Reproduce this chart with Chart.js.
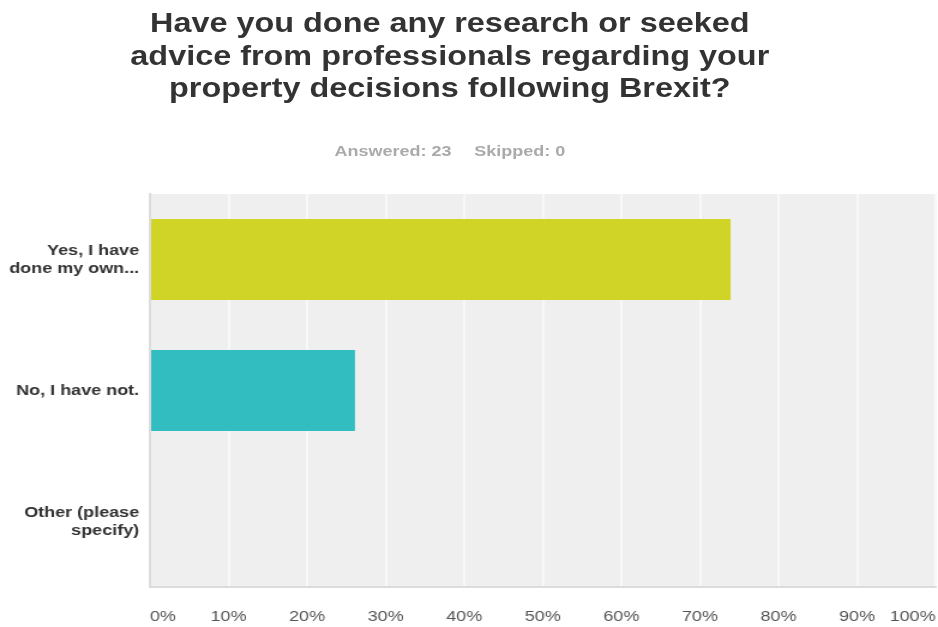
<!DOCTYPE html>
<html>
<head>
<meta charset="utf-8">
<script src="https://cdn.jsdelivr.net/npm/chart.js@4/dist/chart.umd.min.js"></script>
<style>
  html, body { margin: 0; padding: 0; background: #fff; overflow: hidden; }
  /* the survey layout is drawn narrow and stretched sideways */
  #wrap { position: absolute; left: 0; top: 0; width: 782px; height: 627px; transform: scaleX(1.1995); transform-origin: 0 0; }
  #title { position: absolute; left: 0; top: 7px; width: 750px; text-align: center;
    font: bold 27px/32.5px "Liberation Sans", Arial, sans-serif; color: #333; }
  #sub { position: absolute; left: 0; top: 142px; width: 750px; text-align: center;
    font: bold 15px/18px "Liberation Sans", Arial, sans-serif; color: #aaa; }
  #sub span + span { margin-left: 19px; }
  #chart { position: absolute; left: 0; top: 0; }
</style>
</head>
<body>
<div id="wrap">
  <canvas id="chart" width="782" height="627"></canvas>
  <div id="title">Have you done any research or seeked<br>advice from professionals regarding your<br>property decisions following Brexit?</div>
  <div id="sub"><span>Answered: 23</span><span>Skipped: 0</span></div>
</div>
<script>
const answers = [['Yes, I have', 'done my own...'], 'No, I have not.', ['Other (please', 'specify)']];
const percents = [73.91, 26.09, 0];
const barColors = ['#cfd427', '#32bec0', '#cfd427'];
const tickValues = [0, 10, 20, 30, 40, 50, 60, 70, 80, 90, 100];

const plotBackground = {
  id: 'plotBackground',
  beforeDraw(chart) {
    const { ctx, chartArea: a } = chart;
    ctx.save();
    ctx.fillStyle = '#efefef';
    ctx.fillRect(a.left, a.top, a.right - a.left, a.bottom - a.top);
    ctx.restore();
  },
};

const config = {
  type: 'bar',
  data: {
    labels: answers,
    datasets: [
      {
        data: percents,
        backgroundColor: barColors,
        borderWidth: 0,
        categoryPercentage: 1,
        barPercentage: 0.62,
      },
    ],
  },
  options: {
    indexAxis: 'y',
    responsive: false,
    animation: false,
    layout: { padding: { top: 194, right: 2, left: 0, bottom: 0 } },
    plugins: {
      legend: { display: false },
      tooltip: { enabled: false },
    },
    scales: {
      x: {
        min: 0,
        max: 100,
        afterBuildTicks: (scale) => {
          scale.ticks = tickValues.map((v) => ({ value: v }));
        },
        afterFit: (scale) => {
          // labels are pulled inside the plot, so no side room is needed
          scale.height = 40;
          scale.paddingLeft = 0;
          scale.paddingRight = 0;
        },
        grid: { color: '#f8f8f8', lineWidth: 2, drawTicks: false },
        border: { color: '#dcdcdc', width: 2 },
        ticks: {
          align: 'inner',
          padding: 21,
          color: '#555',
          font: { family: "'Liberation Sans', Arial, sans-serif", size: 15 },
          callback: (v) => v + '%',
        },
      },
      y: {
        afterFit: (scale) => {
          scale.width = 125;
          scale.paddingTop = 0;
          scale.paddingBottom = 0;
        },
        grid: { display: false, drawTicks: false },
        border: { color: '#dcdcdc', width: 2 },
        ticks: {
          padding: 9,
          color: '#333',
          font: { family: "'Liberation Sans', Arial, sans-serif", size: 15, weight: 'bold', lineHeight: 1.2 },
        },
      },
    },
  },
  plugins: [plotBackground],
};

new Chart(document.getElementById('chart'), config);
</script>
</body>
</html>
